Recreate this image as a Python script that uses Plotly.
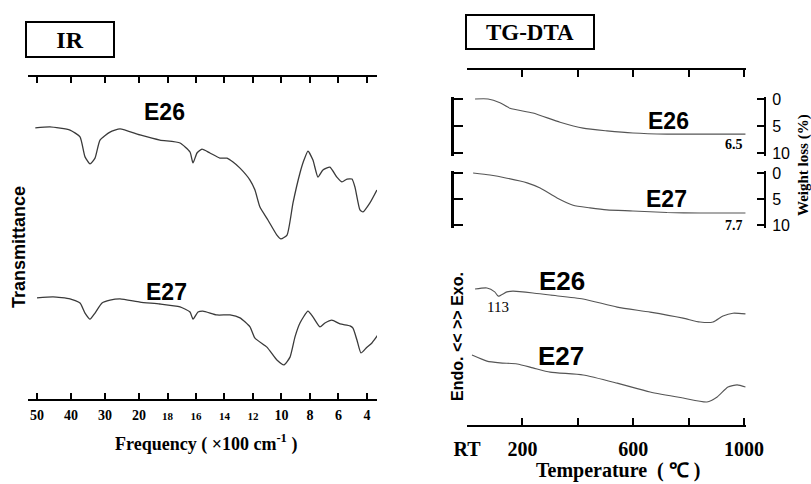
import plotly.graph_objects as go

W, H = 811, 484

# ---------------- IR data (wavenumber in cm-1, transmittance in arbitrary %) ----------------
ir_wn_e26 = [5050, 4618, 4029, 3735, 3588, 3441, 3294, 3147, 2853, 2559, 1993, 1853, 1712, 1642, 1621,
             1593, 1558, 1502, 1432, 1382, 1340, 1291, 1221, 1186, 1151, 1095, 1032, 1004, 961, 919,
             870, 842, 814, 779, 744, 709, 660, 611, 575, 540, 505, 484, 449, 428, 379, 330]
ir_t_e26 = [84.2, 84.5, 83.5, 81.4, 75.2, 73.0, 74.8, 80.4, 82.9, 83.9, 82.0, 80.4, 79.5, 76.7, 73.3,
            76.4, 77.6, 76.4, 74.8, 74.8, 73.6, 71.7, 68.0, 64.9, 59.6, 55.6, 50.9, 49.7, 50.9, 60.9,
            70.2, 74.2, 77.0, 74.2, 68.9, 71.1, 72.0, 68.9, 67.4, 68.3, 68.3, 65.8, 58.7, 58.1, 60.9, 64.9]

ir_wn_e27 = [5000, 4529, 4029, 3735, 3588, 3441, 3294, 3088, 2853, 2559, 1993, 1853, 1712, 1642, 1621,
             1586, 1551, 1453, 1361, 1291, 1221, 1186, 1102, 1032, 982, 940, 905, 870, 814, 779,
             730, 695, 646, 589, 519, 498, 470, 442, 400, 365, 323]
ir_t_e27 = [31.4, 31.7, 31.1, 29.8, 26.7, 24.8, 26.7, 29.8, 30.7, 31.1, 30.1, 29.5, 28.6, 27.0, 24.8,
            27.0, 27.3, 26.1, 26.1, 25.2, 22.4, 18.9, 16.1, 12.1, 10.6, 13.0, 19.3, 23.6, 27.3, 25.5,
            22.4, 23.6, 24.5, 23.3, 22.7, 22.0, 18.3, 14.3, 16.1, 17.4, 19.9]

ir_tick_wn = [5000, 4000, 3000, 2000, 1800, 1600, 1400, 1200, 1000, 800, 600, 400]
ir_tick_labels = ['50', '40', '30', '20', '18', '16', '14', '12', '10', '8', '6', '4']
ir_small_labels = ['18', '16', '14', '12']

# ---------------- TG data (temperature in C, weight loss in %) ----------------
tg_temp_e26 = [29, 76, 119, 155, 238, 336, 419, 505, 599, 722, 841, 1005]
tg_loss_e26 = [0.0, 0.0, 0.7, 1.7, 2.6, 4.3, 5.4, 5.9, 6.3, 6.5, 6.5, 6.5]
tg_temp_e27 = [22, 83, 144, 217, 264, 325, 383, 444, 505, 599, 722, 841, 1005]
tg_loss_e27 = [0.0, 0.4, 1.0, 1.9, 2.9, 4.8, 6.2, 6.7, 7.1, 7.3, 7.6, 7.7, 7.7]

# ---------------- DTA data (temperature in C, signal arbitrary) ----------------
dta_temp_e26 = [29, 72, 100, 113, 144, 166, 238, 300, 419, 542, 661, 780, 841, 888, 924, 960, 1005]
dta_sig_e26 = [38.3, 38.6, 37.5, 36.3, 37.5, 37.7, 37.2, 36.6, 35.5, 33.2, 31.8, 30.1, 29.0, 29.0, 30.7, 31.5, 31.3]
dta_temp_e27 = [18, 72, 119, 181, 238, 300, 419, 542, 661, 780, 866, 903, 942, 975, 1005]
dta_sig_e27 = [19.7, 18.0, 17.5, 17.2, 16.1, 14.9, 14.1, 11.8, 9.3, 7.6, 6.5, 7.9, 10.7, 11.3, 10.7]

temp_tick_vals = [0, 200, 600, 1000]
temp_tick_labels = ['RT', '200', '600', '1000']
temp_minor_vals = [400, 800]
wl_tick_vals = [0, 5, 10]


def ir_scale(f):
    """Piecewise-linear wavenumber scale of the original IR chart (expanded below 2000 cm-1)."""
    if f >= 2000:
        return (5000 - f) / 1000.0
    return 3.0 + (2000 - f) / 200.0 * 0.838


def px(x):
    return x / W


def py(y):
    return 1 - y / H


SERIF = 'Liberation Serif, Times New Roman, serif'
SANS = 'Liberation Sans, Arial, sans-serif'
CURVE = '#3a3a3a'

fig = go.Figure()

line_style = dict(color=CURVE, width=1.3, shape='spline', smoothing=0.5)
fig.add_trace(go.Scatter(x=[ir_scale(f) for f in ir_wn_e26], y=ir_t_e26, mode='lines',
                         line=line_style, xaxis='x', yaxis='y', name='IR E26'))
fig.add_trace(go.Scatter(x=[ir_scale(f) for f in ir_wn_e27], y=ir_t_e27, mode='lines',
                         line=line_style, xaxis='x', yaxis='y', name='IR E27'))

thin = dict(color='#555555', width=1.1, shape='spline', smoothing=0.6)
fig.add_trace(go.Scatter(x=dta_temp_e26, y=dta_sig_e26, mode='lines', line=thin,
                         xaxis='x2', yaxis='y3', name='DTA E26'))
fig.add_trace(go.Scatter(x=dta_temp_e27, y=dta_sig_e27, mode='lines', line=thin,
                         xaxis='x2', yaxis='y3', name='DTA E27'))
fig.add_trace(go.Scatter(x=tg_temp_e26, y=tg_loss_e26, mode='lines', line=thin,
                         xaxis='x2', yaxis='y4', name='TG E26'))
fig.add_trace(go.Scatter(x=tg_temp_e27, y=tg_loss_e27, mode='lines', line=thin,
                         xaxis='x2', yaxis='y6', name='TG E27'))
# empty traces so the bracket axes on the left are drawn
fig.add_trace(go.Scatter(x=[], y=[], xaxis='x2', yaxis='y5', showlegend=False))
fig.add_trace(go.Scatter(x=[], y=[], xaxis='x2', yaxis='y7', showlegend=False))

ir_ticktext = []
for t in ir_tick_labels:
    if t in ir_small_labels:
        ir_ticktext.append("<b><span style='font-size:11px'>%s</span></b>" % t)
    else:
        ir_ticktext.append('<b>%s</b>' % t)

common_x = dict(showline=True, linecolor='black', linewidth=2, mirror='ticks', ticks='inside',
                tickcolor='black', tickwidth=2, showgrid=False, zeroline=False, automargin=False)

tg_range = [10.5, -0.3]
e26_top, e26_bot = 99 + 5.4 * tg_range[1], 99 + 5.4 * tg_range[0]
e27_top, e27_bot = 173 + 5.2 * tg_range[1], 173 + 5.2 * tg_range[0]

right_axis = dict(range=tg_range, anchor='free', position=px(765), side='right', showline=True,
                  linecolor='black', linewidth=2, ticks='inside', ticklen=7, tickwidth=2,
                  tickcolor='black', tickvals=wl_tick_vals, ticklabelstandoff=3, automargin=False,
                  tickfont=dict(family=SANS, size=16, color='black'), showgrid=False, zeroline=False)
left_axis = dict(range=tg_range, anchor='free', position=px(452), side='left', showline=True,
                 linecolor='black', linewidth=3, ticks='inside', ticklen=9, tickwidth=2,
                 tickcolor='black', tickvals=wl_tick_vals, showticklabels=False, automargin=False,
                 showgrid=False, zeroline=False)

fig.update_layout(
    width=W, height=H, margin=dict(l=0, r=0, t=0, b=0, autoexpand=False),
    paper_bgcolor='white', plot_bgcolor='white', showlegend=False,
    xaxis=dict(domain=[px(28), px(377)], range=[-0.265, 10.0], anchor='y', ticklen=6,
               tickvals=[ir_scale(f) for f in ir_tick_wn], ticktext=ir_ticktext, ticklabelstandoff=2,
               tickfont=dict(family=SERIF, size=14, color='black'), **common_x),
    yaxis=dict(domain=[py(399), py(77)], range=[0, 100], visible=False, automargin=False),
    xaxis2=dict(domain=[px(467), px(746)], range=[0, 1007], anchor='y3', ticklen=7,
                tickvals=temp_tick_vals, ticktext=['<b>%s</b>' % t for t in temp_tick_labels],
                minor=dict(tickmode='array', tickvals=temp_minor_vals, ticks='inside', ticklen=7,
                           tickwidth=2, tickcolor='black'),
                ticklabelstandoff=5,
                tickfont=dict(family=SERIF, size=20, color='black'), **common_x),
    yaxis3=dict(domain=[py(425), py(70)], range=[0, 100], anchor='x2', visible=False, automargin=False),
    yaxis4=dict(domain=[py(e26_bot), py(e26_top)], **right_axis),
    yaxis5=dict(overlaying='y4', **left_axis),
    yaxis6=dict(domain=[py(e27_bot), py(e27_top)], **right_axis),
    yaxis7=dict(overlaying='y6', **left_axis),
)

ann = []


def label(x, y, text, font, size, **kw):
    d = dict(x=px(x), y=py(y), xref='paper', yref='paper', text=text, showarrow=False,
             xanchor='center', yanchor='middle', font=dict(family=font, size=size, color='black'))
    d.update(kw)
    ann.append(d)


label(70, 39.5, '<b>IR</b>', SERIF, 24, bordercolor='black', borderwidth=2, width=84, height=31)
label(530, 32, '<b>TG-DTA</b>', SERIF, 23, bordercolor='black', borderwidth=2, width=124, height=30)
label(164, 112, '<b>E26</b>', SANS, 23)
label(166, 292, '<b>E27</b>', SANS, 23)
label(668, 121, '<b>E26</b>', SANS, 23)
label(666, 199, '<b>E27</b>', SANS, 23)
label(562, 281, '<b>E26</b>', SANS, 26)
label(561, 356, '<b>E27</b>', SANS, 26)
label(19, 247, '<b>Transmittance</b>', SANS, 18, textangle=-90)
label(206, 443, '<b>Frequency ( ×100 cm<sup>-1</sup> )</b>', SERIF, 18)
label(618, 470, '<b>Temperature  ( ℃ )</b>', SERIF, 20)
label(804, 165, '<b>Weight loss (%)</b>', SERIF, 15, textangle=-90)
label(457, 337, '<b>Endo. &lt;&lt; &gt;&gt; Exo.</b>', SANS, 16, textangle=-90)

# data-anchored notes
ann.append(dict(x=113, y=dta_sig_e26[3], xref='x2', yref='y3', text='113', showarrow=False,
                yshift=-11, font=dict(family=SERIF, size=15, color='black')))
ann.append(dict(x=tg_temp_e26[-1], y=tg_loss_e26[-1], xref='x2', yref='y4', text='<b>6.5</b>',
                showarrow=False, xanchor='right', yshift=-10, font=dict(family=SERIF, size=14, color='black')))
ann.append(dict(x=tg_temp_e27[-1], y=tg_loss_e27[-1], xref='x2', yref='y6', text='<b>7.7</b>',
                showarrow=False, xanchor='right', yshift=-12, font=dict(family=SERIF, size=14, color='black')))

fig.update_layout(annotations=ann)
fig.write_html('out.html')
